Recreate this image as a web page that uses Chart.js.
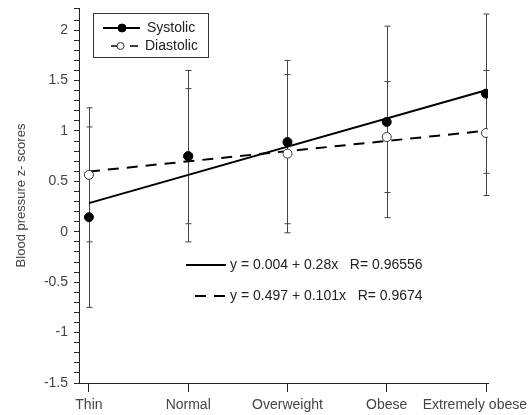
<!DOCTYPE html>
<html>
<head>
<meta charset="utf-8">
<title>Blood pressure z-scores</title>
<script src="https://cdn.jsdelivr.net/npm/chart.js@4.4.0/dist/chart.umd.min.js"></script>
<style>
  html, body { margin: 0; padding: 0; background: #fff; }
  #wrap { width: 529px; height: 415px; }
</style>
</head>
<body>
<div id="wrap"><canvas id="bpChart"></canvas></div>
<script>
const categories = ['Thin', 'Normal', 'Overweight', 'Obese', 'Extremely obese'];
const systolicMean = [0.145, 0.75, 0.89, 1.09, 1.37];
const systolicErr = [0.895, 0.85, 0.81, 0.95, 0.79];
const diastolicMean = [0.565, 0.75, 0.775, 0.94, 0.98];
const diastolicErr = [0.665, 0.67, 0.785, 0.55, 0.62];
// regression: intercept, slope (groups numbered 1..5)
const systolicFit = [0.004, 0.28];
const diastolicFit = [0.497, 0.101];
const systolicR = '0.96556';
const diastolicR = '0.9674';
const yLabelStep = 0.5;

const FONT = "'Liberation Sans', Arial, sans-serif";
const INK = '#222';
const TEXT = '#444';

const toPoints = (values) => values.map((v, i) => ({ x: i, y: v }));
const fitLine = ([a, b]) => [
    { x: 0, y: a + b * 1 },
    { x: categories.length - 1, y: a + b * categories.length }
];

const drawCircle = (ctx, x, y, r, filled) => {
    ctx.beginPath();
    ctx.arc(x, y, r, 0, Math.PI * 2);
    ctx.fillStyle = filled ? '#000' : '#fff';
    ctx.fill();
    ctx.lineWidth = 1;
    ctx.strokeStyle = filled ? '#000' : '#333';
    ctx.stroke();
};

// error bars go under the markers
const errorBars = {
    id: 'errorBars',
    beforeDatasetsDraw(chart) {
        const { ctx, scales: { x, y } } = chart;
        const groups = [[systolicMean, systolicErr], [diastolicMean, diastolicErr]];
        ctx.save();
        ctx.strokeStyle = '#444';
        ctx.lineWidth = 1;
        groups.forEach(([means, errs]) => {
            means.forEach((m, i) => {
                const px = Math.round(x.getPixelForValue(i)) + 0.5;
                const top = y.getPixelForValue(m + errs[i]);
                const bot = y.getPixelForValue(m - errs[i]);
                ctx.beginPath();
                ctx.moveTo(px, top);
                ctx.lineTo(px, bot);
                ctx.moveTo(px - 3, top);
                ctx.lineTo(px + 3, top);
                ctx.moveTo(px - 3, bot);
                ctx.lineTo(px + 3, bot);
                ctx.stroke();
            });
        });
        ctx.restore();
    }
};

// category names under the x ticks, kept inside the canvas at the right edge
const categoryLabels = {
    id: 'categoryLabels',
    afterDraw(chart) {
        const { ctx, scales: { x } } = chart;
        ctx.save();
        ctx.font = '14px ' + FONT;
        ctx.fillStyle = TEXT;
        ctx.textAlign = 'center';
        ctx.textBaseline = 'middle';
        categories.forEach((name, i) => {
            const w = ctx.measureText(name).width;
            const cx = Math.min(x.getPixelForValue(i), chart.width - 2 - w / 2);
            ctx.fillText(name, cx, x.bottom - 10);
        });
        ctx.restore();
    }
};

// boxed series key plus the two regression equations
const annotations = {
    id: 'annotations',
    afterDraw(chart) {
        const { ctx, chartArea: area } = chart;
        ctx.save();
        ctx.font = '14px ' + FONT;
        ctx.textBaseline = 'middle';
        ctx.fillStyle = INK;

        const bx = area.left + 14, by = area.top + 5;
        ctx.strokeStyle = '#333';
        ctx.lineWidth = 1;
        ctx.strokeRect(bx + 0.5, by + 0.5, 115, 44);

        ctx.strokeStyle = '#000';
        ctx.lineWidth = 2;
        ctx.beginPath();
        ctx.moveTo(bx + 10, by + 15);
        ctx.lineTo(bx + 47, by + 15);
        ctx.stroke();
        drawCircle(ctx, bx + 29, by + 15, 4, true);
        ctx.fillStyle = INK;
        ctx.fillText('Systolic', bx + 54, by + 15);

        ctx.lineWidth = 1.5;
        ctx.beginPath();
        ctx.moveTo(bx + 18, by + 33);
        ctx.lineTo(bx + 24, by + 33);
        ctx.moveTo(bx + 37, by + 33);
        ctx.lineTo(bx + 45, by + 33);
        ctx.stroke();
        drawCircle(ctx, bx + 27.5, by + 33, 3.5, false);
        ctx.fillStyle = INK;
        ctx.fillText('Diastolic', bx + 52, by + 33);

        const ex = area.left + 107, ey = area.top + 257;
        ctx.strokeStyle = '#000';
        ctx.lineWidth = 2;
        ctx.beginPath();
        ctx.moveTo(ex, ey);
        ctx.lineTo(ex + 40, ey);
        ctx.stroke();
        ctx.setLineDash([11, 8]);
        ctx.beginPath();
        ctx.moveTo(ex + 9, ey + 31);
        ctx.lineTo(ex + 40, ey + 31);
        ctx.stroke();
        ctx.setLineDash([]);

        ctx.fillStyle = INK;
        ctx.fillText(`y = ${systolicFit[0]} + ${systolicFit[1]}x   R= ${systolicR}`, ex + 44, ey);
        ctx.fillText(`y = ${diastolicFit[0]} + ${diastolicFit[1]}x   R= ${diastolicR}`, ex + 44, ey + 31);
        ctx.restore();
    }
};

new Chart(document.getElementById('bpChart'), {
    type: 'scatter',
    data: {
        datasets: [
            {
                label: 'Systolic',
                data: toPoints(systolicMean),
                showLine: false,
                pointRadius: 4.5,
                pointBackgroundColor: '#000',
                pointBorderColor: '#000',
                pointBorderWidth: 1
            },
            {
                label: 'Diastolic',
                data: toPoints(diastolicMean),
                showLine: false,
                pointRadius: 4.5,
                pointBackgroundColor: '#fff',
                pointBorderColor: '#333',
                pointBorderWidth: 1
            },
            {
                label: 'Systolic fit',
                data: fitLine(systolicFit),
                showLine: true,
                pointRadius: 0,
                borderColor: '#000',
                borderWidth: 2
            },
            {
                label: 'Diastolic fit',
                data: fitLine(diastolicFit),
                showLine: true,
                pointRadius: 0,
                borderColor: '#000',
                borderWidth: 2,
                borderDash: [11, 8]
            }
        ]
    },
    options: {
        responsive: true,
        maintainAspectRatio: false,
        animation: false,
        layout: { padding: { top: 8, right: 41, left: 0, bottom: 0 } },
        plugins: {
            legend: { display: false },
            tooltip: { enabled: false }
        },
        scales: {
            x: {
                type: 'linear',
                min: -0.1,
                max: 4.02,
                afterFit: (s) => { s.height = 32; s.paddingLeft = 0; s.paddingRight = 0; },
                border: { color: INK, width: 1 },
                grid: {
                    drawOnChartArea: false,
                    tickLength: 9,
                    tickColor: INK
                },
                ticks: {
                    display: false,
                    stepSize: 1,
                    includeBounds: false,
                    autoSkip: false
                }
            },
            y: {
                min: -1.5,
                max: 2.22,
                afterFit: (s) => { s.width = 79; s.paddingTop = 0; s.paddingBottom = 0; },
                border: { color: INK, width: 1 },
                grid: {
                    drawOnChartArea: false,
                    tickLength: 5,
                    tickColor: INK
                },
                title: {
                    display: true,
                    text: 'Blood pressure z- scores',
                    color: TEXT,
                    font: { family: FONT, size: 13 },
                    padding: { top: 14, bottom: 0 }
                },
                ticks: {
                    stepSize: 0.1,
                    autoSkip: false,
                    padding: 6,
                    color: TEXT,
                    font: { family: FONT, size: 14 },
                    callback: (v) => {
                        const r = Math.round(v * 10) / 10;
                        const k = r / yLabelStep;
                        return Math.abs(k - Math.round(k)) < 1e-6 && r <= 2 ? String(r) : '';
                    }
                }
            }
        }
    },
    plugins: [errorBars, categoryLabels, annotations]
});
</script>
</body>
</html>
